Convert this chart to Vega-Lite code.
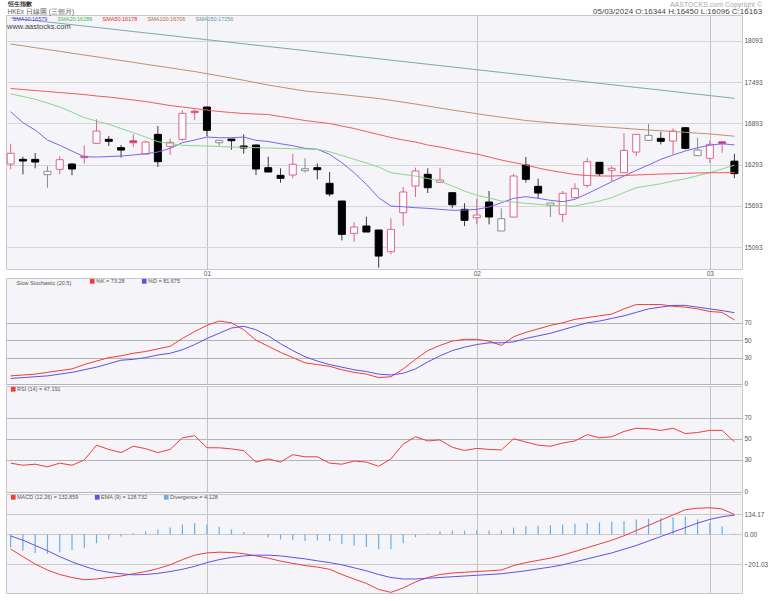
{
"$schema": "https://vega.github.io/schema/vega-lite/v6.json",
"padding": {"left": 5, "top": 0, "right": 0, "bottom": 0},
"background": "#ffffff",
"spacing": 0,
"config": {
  "font": "Liberation Sans",
  "view": {"fill": "#f5f4f8", "stroke": "#c8c8c8"},
  "axis": {"labelFont": "Liberation Sans", "labelFontSize": 6.5, "labelColor": "#555555", "ticks": false, "domain": false, "title": null, "gridColor": "#d6d6d6", "gridWidth": 1, "labelOverlap": false},
  "legend": {"labelFont": "Liberation Sans", "labelFontSize": 5.5, "labelColor": "#555555", "titleFont": "Liberation Sans", "titleFontSize": 5.5, "titleFontWeight": "normal", "titleColor": "#555555", "padding": 0.5, "rowPadding": 0},
  "title": {"font": "Liberation Sans", "subtitleFont": "Liberation Sans"}
},
"title": {"text": "恒生指數", "subtitle": " HKEx 日線圖 (三個月)", "anchor": "start", "dx": 2, "offset": -14.5, "fontSize": 6, "fontWeight": "bold", "color": "#333333", "subtitleFontSize": 6.5, "subtitleColor": "#555555", "subtitlePadding": 1.5, "lineHeight": 7, "subtitleLineHeight": 7},
"resolve": {"scale": {"x": "independent", "y": "independent", "color": "independent"}, "legend": {"color": "independent"}},
"datasets": {"p": [
{"d":"2023-12-06","o":16302,"h":16597,"l":16225,"c":16458,"s10":17062,"s20":17323,"s50":17398,"s100":18045,"s150":18424,"k":9,"dd":6,"rsi":27,"macd":-99,"ema":-11,"dv":-88},
{"d":"2023-12-07","o":16370,"h":16408,"l":16153,"c":16346,"s10":16902,"s20":17282,"s50":17384,"s100":18019,"s150":18404,"k":10,"dd":7,"rsi":25,"macd":-150,"ema":-40,"dv":-110},
{"d":"2023-12-08","o":16370,"h":16462,"l":16240,"c":16331,"s10":16796,"s20":17242,"s50":17369,"s100":17991,"s150":18385,"k":11,"dd":8,"rsi":26,"macd":-200,"ema":-75,"dv":-125},
{"d":"2023-12-11","o":16147,"h":16273,"l":15958,"c":16196,"s10":16651,"s20":17188,"s50":17355,"s100":17965,"s150":18365,"k":13,"dd":9,"rsi":23.5,"macd":-240,"ema":-110,"dv":-130},
{"d":"2023-12-12","o":16225,"h":16414,"l":16153,"c":16365,"s10":16574,"s20":17130,"s50":17340,"s100":17939,"s150":18345,"k":15,"dd":11,"rsi":27,"macd":-270,"ema":-150,"dv":-120},
{"d":"2023-12-13","o":16302,"h":16317,"l":16138,"c":16230,"s10":16491,"s20":17057,"s50":17326,"s100":17911,"s150":18325,"k":17,"dd":13,"rsi":25,"macd":-290,"ema":-185,"dv":-105},
{"d":"2023-12-14","o":16414,"h":16574,"l":16307,"c":16394,"s10":16408,"s20":16975,"s50":17311,"s100":17885,"s150":18305,"k":22,"dd":16,"rsi":30,"macd":-305,"ema":-215,"dv":-90},
{"d":"2023-12-15","o":16603,"h":16951,"l":16603,"c":16781,"s10":16404,"s20":16927,"s50":17290,"s100":17859,"s150":18286,"k":26,"dd":19,"rsi":44,"macd":-300,"ema":-240,"dv":-60},
{"d":"2023-12-18","o":16661,"h":16709,"l":16564,"c":16632,"s10":16411,"s20":16879,"s50":17275,"s100":17831,"s150":18266,"k":30,"dd":23,"rsi":40,"macd":-290,"ema":-255,"dv":-35},
{"d":"2023-12-19","o":16539,"h":16578,"l":16394,"c":16505,"s10":16418,"s20":16818,"s50":17253,"s100":17805,"s150":18246,"k":32,"dd":27,"rsi":37,"macd":-280,"ema":-265,"dv":-15},
{"d":"2023-12-20","o":16641,"h":16733,"l":16549,"c":16610,"s10":16433,"s20":16757,"s50":17231,"s100":17779,"s150":18226,"k":35,"dd":28,"rsi":43,"macd":-265,"ema":-272,"dv":7},
{"d":"2023-12-21","o":16447,"h":16640,"l":16440,"c":16621,"s10":16452,"s20":16694,"s50":17210,"s100":17751,"s150":18206,"k":37,"dd":30,"rsi":40.7,"macd":-250,"ema":-270,"dv":20},
{"d":"2023-12-22","o":16733,"h":16854,"l":16259,"c":16336,"s10":16476,"s20":16626,"s50":17181,"s100":17725,"s150":18187,"k":40,"dd":33,"rsi":37,"macd":-230,"ema":-262,"dv":32},
{"d":"2023-12-27","o":16559,"h":16670,"l":16433,"c":16617,"s10":16530,"s20":16600,"s50":17152,"s100":17699,"s150":18167,"k":43,"dd":35,"rsi":40,"macd":-205,"ema":-250,"dv":45},
{"d":"2023-12-28","o":16661,"h":17082,"l":16636,"c":17038,"s10":16612,"s20":16574,"s50":17130,"s100":17671,"s150":18147,"k":52,"dd":39,"rsi":51,"macd":-170,"ema":-235,"dv":65},
{"d":"2023-12-29","o":17070,"h":17096,"l":16937,"c":17047,"s10":16651,"s20":16568,"s50":17108,"s100":17645,"s150":18127,"k":60,"dd":45,"rsi":53,"macd":-140,"ema":-215,"dv":75},
{"d":"2024-01-02","o":17130,"h":17130,"l":16709,"c":16792,"s10":16694,"s20":16564,"s50":17086,"s100":17613,"s150":18107,"k":67,"dd":52,"rsi":41.6,"macd":-125,"ema":-190,"dv":65},
{"d":"2024-01-03","o":16612,"h":16646,"l":16563,"c":16646,"s10":16684,"s20":16556,"s50":17065,"s100":17583,"s150":18088,"k":72,"dd":58,"rsi":41.5,"macd":-120,"ema":-170,"dv":50},
{"d":"2024-01-04","o":16665,"h":16665,"l":16510,"c":16641,"s10":16684,"s20":16549,"s50":17050,"s100":17551,"s150":18068,"k":70,"dd":64,"rsi":40.5,"macd":-122,"ema":-155,"dv":33},
{"d":"2024-01-05","o":16564,"h":16733,"l":16452,"c":16535,"s10":16694,"s20":16545,"s50":17036,"s100":17518,"s150":18048,"k":62,"dd":66,"rsi":38.8,"macd":-130,"ema":-145,"dv":15},
{"d":"2024-01-08","o":16578,"h":16588,"l":16143,"c":16230,"s10":16646,"s20":16539,"s50":17028,"s100":17483,"s150":18028,"k":50,"dd":62,"rsi":28,"macd":-145,"ema":-140,"dv":-5},
{"d":"2024-01-09","o":16249,"h":16408,"l":16186,"c":16186,"s10":16629,"s20":16535,"s50":17021,"s100":17449,"s150":18008,"k":43,"dd":55,"rsi":31,"macd":-160,"ema":-140,"dv":-20},
{"d":"2024-01-10","o":16138,"h":16240,"l":16031,"c":16095,"s10":16597,"s20":16530,"s50":16992,"s100":17420,"s150":17989,"k":36,"dd":46,"rsi":28,"macd":-180,"ema":-145,"dv":-35},
{"d":"2024-01-11","o":16143,"h":16452,"l":16095,"c":16298,"s10":16568,"s20":16524,"s50":16963,"s100":17391,"s150":17969,"k":30,"dd":38,"rsi":35,"macd":-195,"ema":-155,"dv":-40},
{"d":"2024-01-12","o":16205,"h":16385,"l":16176,"c":16234,"s10":16530,"s20":16520,"s50":16934,"s100":17362,"s150":17949,"k":24,"dd":31,"rsi":33,"macd":-210,"ema":-165,"dv":-45},
{"d":"2024-01-15","o":16249,"h":16312,"l":16080,"c":16220,"s10":16516,"s20":16516,"s50":16912,"s100":17345,"s150":17929,"k":22,"dd":26,"rsi":33,"macd":-220,"ema":-178,"dv":-42},
{"d":"2024-01-16","o":16022,"h":16186,"l":15833,"c":15867,"s10":16443,"s20":16481,"s50":16890,"s100":17329,"s150":17909,"k":20,"dd":22,"rsi":27,"macd":-235,"ema":-190,"dv":-45},
{"d":"2024-01-17","o":15765,"h":15765,"l":15194,"c":15281,"s10":16321,"s20":16426,"s50":16854,"s100":17311,"s150":17890,"k":16,"dd":19,"rsi":26,"macd":-270,"ema":-205,"dv":-65},
{"d":"2024-01-18","o":15296,"h":15460,"l":15174,"c":15388,"s10":16176,"s20":16371,"s50":16818,"s100":17292,"s150":17870,"k":13,"dd":16,"rsi":29,"macd":-300,"ema":-225,"dv":-75},
{"d":"2024-01-19","o":15402,"h":15537,"l":15315,"c":15315,"s10":16007,"s20":16317,"s50":16774,"s100":17272,"s150":17850,"k":11,"dd":14,"rsi":28,"macd":-330,"ema":-245,"dv":-85},
{"d":"2024-01-22","o":15344,"h":15344,"l":14797,"c":14966,"s10":15813,"s20":16259,"s50":16731,"s100":17253,"s150":17830,"k":7,"dd":11,"rsi":24,"macd":-370,"ema":-270,"dv":-100},
{"d":"2024-01-23","o":15029,"h":15514,"l":14991,"c":15354,"s10":15692,"s20":16176,"s50":16687,"s100":17227,"s150":17810,"k":8,"dd":10,"rsi":31,"macd":-390,"ema":-290,"dv":-100},
{"d":"2024-01-24","o":15595,"h":15968,"l":15402,"c":15896,"s10":15682,"s20":16150,"s50":16651,"s100":17200,"s150":17791,"k":17,"dd":12,"rsi":45,"macd":-360,"ema":-300,"dv":-60},
{"d":"2024-01-25","o":15983,"h":16249,"l":15823,"c":16201,"s10":15668,"s20":16128,"s50":16622,"s100":17173,"s150":17771,"k":28,"dd":17,"rsi":52,"macd":-320,"ema":-300,"dv":-20},
{"d":"2024-01-26","o":16153,"h":16240,"l":15881,"c":15958,"s10":15659,"s20":16092,"s50":16578,"s100":17144,"s150":17751,"k":38,"dd":25,"rsi":48,"macd":-290,"ema":-295,"dv":5},
{"d":"2024-01-29","o":16037,"h":16249,"l":16037,"c":16070,"s10":15644,"s20":16055,"s50":16549,"s100":17115,"s150":17731,"k":44,"dd":32,"rsi":49,"macd":-270,"ema":-290,"dv":20},
{"d":"2024-01-30","o":15886,"h":15886,"l":15659,"c":15711,"s10":15630,"s20":15983,"s50":16513,"s100":17086,"s150":17711,"k":49,"dd":38,"rsi":42,"macd":-260,"ema":-285,"dv":25},
{"d":"2024-01-31","o":15644,"h":15732,"l":15402,"c":15485,"s10":15634,"s20":15910,"s50":16477,"s100":17060,"s150":17692,"k":51,"dd":42,"rsi":39,"macd":-255,"ema":-280,"dv":25},
{"d":"2024-02-01","o":15523,"h":15798,"l":15427,"c":15562,"s10":15644,"s20":15848,"s50":16447,"s100":17033,"s150":17672,"k":51,"dd":45,"rsi":41,"macd":-250,"ema":-275,"dv":25},
{"d":"2024-02-02","o":15751,"h":15910,"l":15427,"c":15533,"s10":15678,"s20":15809,"s50":16404,"s100":17006,"s150":17652,"k":49,"dd":47,"rsi":40,"macd":-245,"ema":-270,"dv":25},
{"d":"2024-02-05","o":15330,"h":15659,"l":15330,"c":15508,"s10":15740,"s20":15765,"s50":16360,"s100":16982,"s150":17632,"k":44,"dd":47,"rsi":39.5,"macd":-240,"ema":-265,"dv":25},
{"d":"2024-02-06","o":15533,"h":16157,"l":15533,"c":16128,"s10":15804,"s20":15750,"s50":16324,"s100":16959,"s150":17612,"k":54,"dd":48,"rsi":50,"macd":-210,"ema":-255,"dv":45},
{"d":"2024-02-07","o":16288,"h":16404,"l":16031,"c":16080,"s10":15828,"s20":15732,"s50":16288,"s100":16934,"s150":17593,"k":59,"dd":52,"rsi":47,"macd":-190,"ema":-245,"dv":55},
{"d":"2024-02-08","o":15978,"h":16089,"l":15804,"c":15881,"s10":15804,"s20":15717,"s50":16244,"s100":16918,"s150":17573,"k":63,"dd":55,"rsi":44,"macd":-175,"ema":-232,"dv":57},
{"d":"2024-02-09","o":15703,"h":15736,"l":15533,"c":15736,"s10":15775,"s20":15703,"s50":16208,"s100":16903,"s150":17553,"k":67,"dd":58,"rsi":43,"macd":-160,"ema":-220,"dv":60},
{"d":"2024-02-14","o":15572,"h":15910,"l":15460,"c":15877,"s10":15755,"s20":15697,"s50":16179,"s100":16887,"s150":17533,"k":70,"dd":62,"rsi":46,"macd":-140,"ema":-205,"dv":65},
{"d":"2024-02-15","o":15813,"h":16022,"l":15813,"c":15944,"s10":15790,"s20":15692,"s50":16150,"s100":16874,"s150":17513,"k":74,"dd":66,"rsi":48,"macd":-115,"ema":-185,"dv":70},
{"d":"2024-02-16","o":15993,"h":16394,"l":15958,"c":16336,"s10":15871,"s20":15729,"s50":16135,"s100":16860,"s150":17494,"k":76,"dd":70,"rsi":54,"macd":-90,"ema":-165,"dv":75},
{"d":"2024-02-19","o":16327,"h":16327,"l":16128,"c":16161,"s10":15958,"s20":15765,"s50":16128,"s100":16847,"s150":17474,"k":78,"dd":72,"rsi":51,"macd":-65,"ema":-145,"dv":80},
{"d":"2024-02-20","o":16211,"h":16273,"l":16045,"c":16240,"s10":16045,"s20":15813,"s50":16128,"s100":16834,"s150":17454,"k":80,"dd":75,"rsi":52,"macd":-40,"ema":-125,"dv":85},
{"d":"2024-02-21","o":16176,"h":16748,"l":16176,"c":16501,"s10":16128,"s20":15888,"s50":16135,"s100":16821,"s150":17434,"k":86,"dd":78,"rsi":57,"macd":-10,"ema":-100,"dv":90},
{"d":"2024-02-22","o":16476,"h":16733,"l":16418,"c":16733,"s10":16211,"s20":15958,"s50":16143,"s100":16808,"s150":17414,"k":91,"dd":82,"rsi":60,"macd":25,"ema":-75,"dv":100},
{"d":"2024-02-23","o":16646,"h":16887,"l":16646,"c":16719,"s10":16288,"s20":15987,"s50":16150,"s100":16796,"s150":17395,"k":91,"dd":86,"rsi":59.5,"macd":60,"ema":-45,"dv":105},
{"d":"2024-02-26","o":16675,"h":16771,"l":16588,"c":16632,"s10":16370,"s20":16016,"s50":16157,"s100":16786,"s150":17375,"k":91,"dd":88,"rsi":58,"macd":95,"ema":-15,"dv":110},
{"d":"2024-02-27","o":16636,"h":16820,"l":16443,"c":16781,"s10":16433,"s20":16055,"s50":16161,"s100":16774,"s150":17355,"k":89,"dd":90,"rsi":60,"macd":130,"ema":15,"dv":115},
{"d":"2024-02-28","o":16829,"h":16839,"l":16515,"c":16530,"s10":16491,"s20":16089,"s50":16167,"s100":16763,"s150":17335,"k":88,"dd":90,"rsi":55,"macd":165,"ema":45,"dv":120},
{"d":"2024-02-29","o":16423,"h":16684,"l":16423,"c":16505,"s10":16539,"s20":16132,"s50":16172,"s100":16750,"s150":17315,"k":86,"dd":88,"rsi":56,"macd":175,"ema":75,"dv":100},
{"d":"2024-03-01","o":16385,"h":16646,"l":16317,"c":16588,"s10":16574,"s20":16176,"s50":16176,"s100":16738,"s150":17296,"k":83,"dd":86,"rsi":58,"macd":178,"ema":100,"dv":78},
{"d":"2024-03-04","o":16626,"h":16626,"l":16466,"c":16597,"s10":16597,"s20":16230,"s50":16176,"s100":16723,"s150":17276,"k":82,"dd":84,"rsi":58,"macd":170,"ema":118,"dv":52},
{"d":"2024-03-05","o":16344,"h":16450,"l":16096,"c":16163,"s10":16579,"s20":16286,"s50":16178,"s100":16706,"s150":17256,"k":73.28,"dd":81.675,"rsi":47.191,"macd":132.859,"ema":128.732,"dv":4.128}
]},
"vconcat": [
{
  "width": 736, "height": 254,
  "title": {"text": "AASTOCKS.com Copyright ©", "subtitle": "05/03/2024  O:16344  H:16450  L:16096  C:16163", "anchor": "end", "offset": -1, "font": "Liberation Sans", "fontSize": 7, "fontWeight": "normal", "color": "#aaaaaa", "subtitleFont": "Liberation Sans", "subtitleFontSize": 8, "subtitleColor": "#444444", "subtitlePadding": 0, "lineHeight": 8, "subtitleLineHeight": 8},
  "data": {"name": "p"},
  "transform": [{"window": [{"op": "lag", "field": "c", "as": "pc"}], "sort": [{"field": "d"}]}],
  "encoding": {
    "x": {"field": "d", "type": "ordinal", "sort": "ascending", "scale": {"type": "point", "paddingOuter": 0.786, "align": 0.38},
          "axis": {"orient": "bottom", "values": ["2024-01-02", "2024-02-01", "2024-03-01"], "labelExpr": "slice(datum.value, 5, 7)", "labelAngle": 0, "grid": true, "gridColor": "#c4c4c4", "labelPadding": 1, "labelFontSize": 6.5, "maxExtent": 7, "minExtent": 7}}
  },
  "layer": [
    {"mark": {"type": "rule", "strokeWidth": 1},
     "encoding": {
       "y": {"field": "l", "type": "quantitative", "scale": {"domain": [14778, 18466], "nice": false, "zero": false},
             "axis": {"orient": "right", "values": [15093, 15393, 15693, 15993, 16293, 16593, 16893, 17193, 17493, 17793, 18093, 18393], "format": "d", "grid": true, "labelPadding": 2}},
       "y2": {"field": "h"},
       "stroke": {"condition": [{"test": "datum.pc == null || datum.c >= datum.pc", "value": "#e0628c"}, {"test": "datum.c >= datum.o", "value": "#8a8a8a"}], "value": "#3a3a3a"}
     }},
    {"mark": {"type": "bar", "width": 7, "strokeWidth": 1},
     "encoding": {
       "y": {"field": "o", "type": "quantitative", "scale": {"domain": [14778, 18466], "nice": false, "zero": false}},
       "y2": {"field": "c"},
       "fill": {"condition": [{"test": "datum.c >= datum.o", "value": "#ffffff"}, {"test": "datum.c >= datum.pc", "value": "#d42458"}], "value": "#000000"},
       "stroke": {"condition": [{"test": "datum.pc == null || datum.c >= datum.pc", "value": "#e0628c"}, {"test": "datum.c >= datum.o", "value": "#8a8a8a"}], "value": "#000000"}
     }},
    {"transform": [{"fold": ["s10", "s20", "s50", "s100", "s150"], "as": ["key", "v"]}],
     "mark": {"type": "line", "strokeWidth": 1},
     "encoding": {
       "y": {"field": "v", "type": "quantitative", "scale": {"domain": [14778, 18466], "nice": false, "zero": false}},
       "color": {"field": "key", "type": "nominal",
                 "scale": {"domain": ["s10", "s20", "s50", "s100", "s150"], "range": ["#7766ee", "#88d888", "#f25a5a", "#bf9070", "#79a9ad"]},
                 "legend": {"orient": "none", "legendX": 1, "legendY": 0.5, "direction": "horizontal", "padding": 0, "title": "www.aastocks.com", "titleOrient": "bottom", "titleFontSize": 7.5, "titleColor": "#444444", "titlePadding": 0,
                            "labelExpr": "datum.value=='s10'?'SMA10:16579':datum.value=='s20'?'SMA20:16286':datum.value=='s50'?'SMA50:16178':datum.value=='s100'?'SMA100:16706':'SMA150:17256'",
                            "symbolSize": 0, "symbolStrokeWidth": 0, "symbolOpacity": 0, "labelOffset": 0, "columnPadding": 4, "labelFontSize": 5.5,
                            "encode": {"labels": {"update": {"fill": [{"test": "datum.value=='s10'", "value": "#4a3ce0"}, {"test": "datum.value=='s20'", "value": "#3cbf3c"}, {"test": "datum.value=='s50'", "value": "#f02828"}, {"test": "datum.value=='s100'", "value": "#b0703c"}, {"value": "#5a9aa0"}]}}}}}
     }}
  ]
},
{
  "spacing": 2,
  "bounds": "flush",
  "resolve": {"scale": {"x": "independent", "y": "independent", "color": "independent"}, "legend": {"color": "independent"}},
  "vconcat": [
  {
    "width": 736, "height": 106,
    "data": {"name": "p"},
    "transform": [{"fold": ["k", "dd"], "as": ["key", "v"]}],
    "mark": {"type": "line", "strokeWidth": 1},
    "encoding": {
      "x": {"field": "d", "type": "ordinal", "sort": "ascending", "scale": {"type": "point", "paddingOuter": 0.786, "align": 0.38},
            "axis": {"orient": "bottom", "values": ["2024-01-02", "2024-02-01", "2024-03-01"], "labels": false, "grid": true, "gridColor": "#c4c4c4", "maxExtent": 0, "minExtent": 0}},
      "y": {"field": "v", "type": "quantitative", "scale": {"domain": [-0.35, 121.5], "nice": false, "zero": false},
            "axis": {"orient": "right", "values": [0, 30, 50, 70], "grid": true, "gridColor": "#b4b4b4", "labelPadding": 2}},
      "color": {"field": "key", "type": "nominal", "scale": {"domain": ["k", "dd"], "range": ["#f23c3c", "#6050e6"]},
                "legend": {"orient": "none", "legendX": 10, "legendY": 0, "direction": "horizontal", "title": "Slow Stochastic (20,5)", "titleOrient": "left", "titlePadding": 18,
                           "labelExpr": "datum.value=='k'?'%K = 73.28':'%D = 81.675'", "symbolType": "square", "symbolSize": 5, "symbolStrokeWidth": 2.5, "labelOffset": 1, "columnPadding": 12}}
    }
  },
  {
    "width": 736, "height": 106,
    "data": {"name": "p"},
    "transform": [{"fold": ["rsi"], "as": ["key", "v"]}],
    "mark": {"type": "line", "strokeWidth": 1},
    "encoding": {
      "x": {"field": "d", "type": "ordinal", "sort": "ascending", "scale": {"type": "point", "paddingOuter": 0.786, "align": 0.38},
            "axis": {"orient": "bottom", "values": ["2024-01-02", "2024-02-01", "2024-03-01"], "labels": false, "grid": true, "gridColor": "#c4c4c4", "maxExtent": 0, "minExtent": 0}},
      "y": {"field": "v", "type": "quantitative", "scale": {"domain": [-0.3, 100], "nice": false, "zero": false},
            "axis": {"orient": "right", "values": [0, 30, 50, 70], "grid": true, "gridColor": "#b4b4b4", "labelPadding": 2}},
      "color": {"field": "key", "type": "nominal", "scale": {"domain": ["rsi"], "range": ["#f23c3c"]},
                "legend": {"orient": "none", "legendX": 4, "legendY": 0, "direction": "horizontal", "title": null,
                           "labelExpr": "'RSI (14)  = 47.191'", "symbolType": "square", "symbolSize": 5, "symbolStrokeWidth": 2.5, "labelOffset": 1}}
    }
  },
  {
    "width": 736, "height": 99,
    "data": {"name": "p"},
    "encoding": {
      "x": {"field": "d", "type": "ordinal", "sort": "ascending", "scale": {"type": "point", "paddingOuter": 0.786, "align": 0.38},
            "axis": {"orient": "bottom", "values": ["2024-01-02", "2024-02-01", "2024-03-01"], "labels": false, "grid": true, "gridColor": "#c4c4c4", "maxExtent": 0, "minExtent": 0}}
    },
    "layer": [
      {"mark": {"type": "rule", "strokeWidth": 1.2},
       "encoding": {
         "y": {"field": "dv", "type": "quantitative", "scale": {"domain": [-394, 270.5], "nice": false, "zero": false},
               "axis": {"orient": "right", "values": [-201.03, 0, 134.17], "format": ".2f", "grid": true, "gridColor": "#c8c8c8", "labelPadding": 2}},
         "y2": {"datum": 0},
         "color": {"datum": "dv"}
       }},
      {"transform": [{"fold": ["macd", "ema"], "as": ["key", "v"]}],
       "mark": {"type": "line", "strokeWidth": 1},
       "encoding": {
         "y": {"field": "v", "type": "quantitative", "scale": {"domain": [-394, 270.5], "nice": false, "zero": false}},
         "color": {"field": "key", "type": "nominal",
                   "scale": {"domain": ["macd", "ema", "dv"], "range": ["#f23c3c", "#6050e6", "#6aaee8"]},
                   "legend": {"orient": "none", "legendX": 4, "legendY": 0, "direction": "horizontal", "title": null,
                              "labelExpr": "datum.value=='macd'?'MACD (12,26) = 132.859':datum.value=='ema'?'EMA (9) = 128.732':'Divergence = 4.128'", "symbolType": "square", "symbolSize": 5, "symbolStrokeWidth": 2.5, "labelOffset": 1, "columnPadding": 12}}
       }}
    ]
  }
  ]
}
]
}
